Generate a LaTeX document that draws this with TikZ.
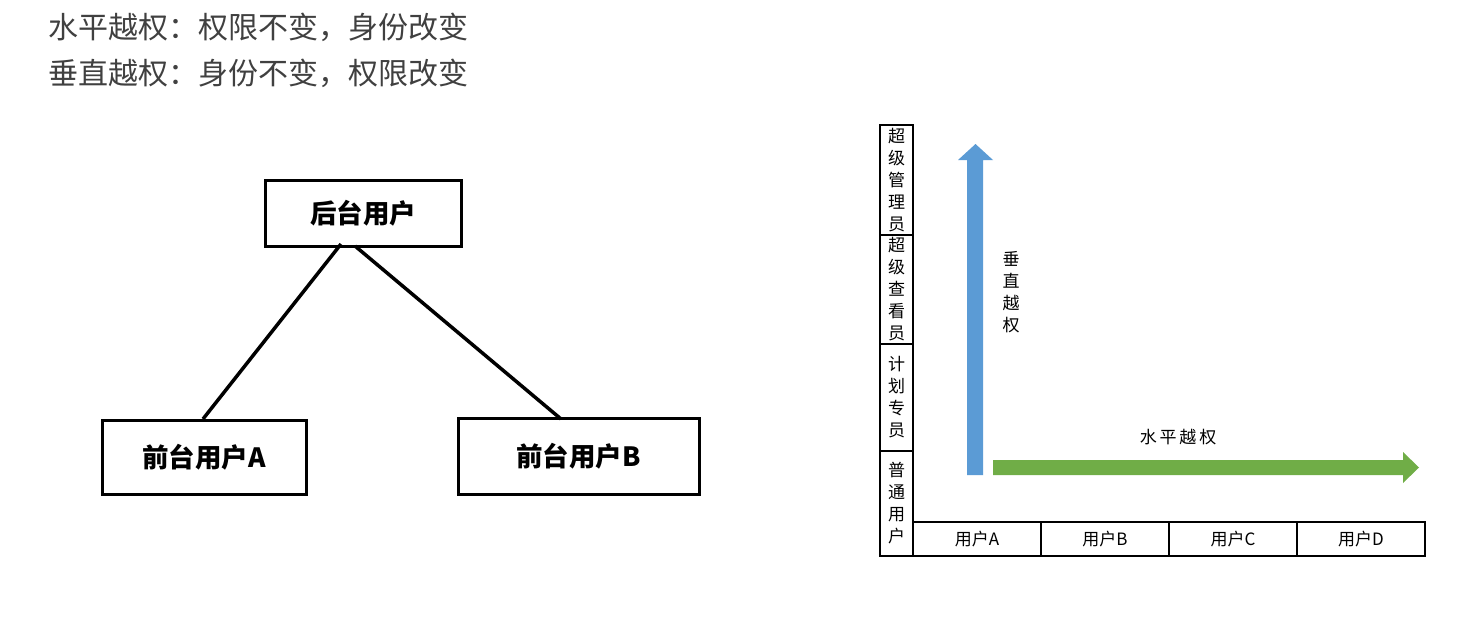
\documentclass[tikz,border=0pt]{standalone}
\usepackage{fontspec}
\setmainfont{Noto Sans CJK SC}
\usetikzlibrary{arrows.meta,shapes.arrows}
\definecolor{hdrgray}{RGB}{64,64,64}
\definecolor{vblue}{RGB}{91,155,213}
\definecolor{hgreen}{RGB}{112,173,71}
\begin{document}
\begin{tikzpicture}[x=1pt,y=-1pt,
	rolebox/.style={draw=black,line width=3pt,minimum width=#1,minimum height=68pt,inner sep=0pt,
	                font=\fontsize{26.5}{30}\selectfont\bfseries},
	cell/.style={draw=black,line width=1.6pt,inner sep=0pt,font=\fontsize{17}{22}\selectfont},
	hdr/.style={anchor=west,text=hdrgray,font=\fontsize{30}{34}\selectfont}]
	\useasboundingbox (0,0) rectangle (1468,625);
	% header lines
	\node[hdr] (h1) at (45,27) {水平越权：权限不变，身份改变};
	\node[hdr] (h2) at (45,73) {垂直越权：身份不变，权限改变};

	% left tree
	\node[rolebox=196pt,minimum height=66pt] (back) at (363,213) {后台用户};
	\node[rolebox=204pt,minimum height=74pt] (fa) at (204,457) {前台用户A};
	\node[rolebox=241pt,minimum height=76pt] (fb) at (578.5,456) {前台用户B};
	\coordinate (s1) at (341,244);
	\coordinate (s2) at (355,246);
	\coordinate (e1) at (203,419);
	\coordinate (e2) at (561,419);
	\draw[line width=3.5pt] (s1) -- (e1);
	\draw[line width=3.5pt] (s2) -- (e2);

	% right chart: role column
	\node[cell,minimum width=33pt,minimum height=110pt,text width=17pt,align=center] (r1) at (896.5,180) {超\\级\\管\\理\\员};
	\node[cell,minimum width=33pt,minimum height=109pt,text width=17pt,align=center] (r2) at (896.5,289.5) {超\\级\\查\\看\\员};
	\node[cell,minimum width=33pt,minimum height=107pt,text width=17pt,align=center] (r3) at (896.5,397.5) {计\\划\\专\\员};
	\node[cell,minimum width=33pt,minimum height=105pt,text width=17pt,align=center] (r4) at (896.5,503.5) {普\\通\\用\\户};
	% user row
	\foreach \u [count=\i from 0] in {A,B,C,D}
		\node[cell,minimum width=128pt,minimum height=34pt] (u\u) at (977+\i*128,539) {用户\u};

	% arrows
	\fill[vblue] (967,475) -- (967,160) -- (958,160) -- (975.5,144) -- (993,160) -- (983,160) -- (983,475) -- cycle;
	\fill[hgreen] (993,460) -- (1403,460) -- (1403,452) -- (1419,467.5) -- (1403,483) -- (1403,475) -- (993,475) -- cycle;
	\node[font=\fontsize{17}{22}\selectfont,align=center] (vlab) at (1011,292) {垂\\直\\越\\权};
	\node[font=\fontsize{17}{20}\selectfont] (hlab) at (1178,437) {水\,平\,越\,权};
\end{tikzpicture}
\end{document}
